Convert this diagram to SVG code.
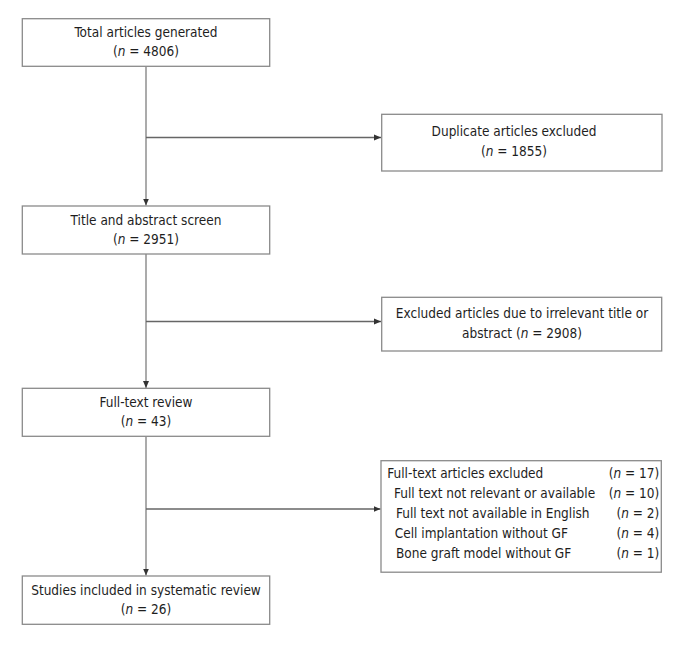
<svg xmlns="http://www.w3.org/2000/svg" width="688" height="646" viewBox="0 0 688 646">
<defs>
<style>
.box{fill:#fff;stroke:#8a8a8a;stroke-width:1.3}
.t{font-family:"DejaVu Sans Condensed","DejaVu Sans",sans-serif;font-size:13.5px;fill:#1e1e1e}
.c{text-anchor:middle}
.r{text-anchor:end}
.i{font-style:italic}
.ln{stroke:#666;stroke-width:1.3;fill:none}
.lv{stroke:#8f8f8f;stroke-width:1.5;fill:none}
</style>
<marker id="ah" markerWidth="8" markerHeight="8" refX="7" refY="4" orient="auto" markerUnits="userSpaceOnUse">
<path d="M0,1 L7,4 L0,7 Z" fill="#333"/>
</marker>
</defs>
<rect width="688" height="646" fill="#fff"/>
<g id="connectors">
<line class="lv" x1="146" y1="66.5" x2="146" y2="205.5" marker-end="url(#ah)"/>
<line class="ln" x1="146" y1="137.5" x2="381" y2="137.5" marker-end="url(#ah)"/>
<line class="lv" x1="146" y1="254" x2="146" y2="388" marker-end="url(#ah)"/>
<line class="ln" x1="146" y1="321.5" x2="381" y2="321.5" marker-end="url(#ah)"/>
<line class="lv" x1="146" y1="436.5" x2="146" y2="575.5" marker-end="url(#ah)"/>
<line class="ln" x1="146" y1="509" x2="380.5" y2="509" marker-end="url(#ah)"/>
</g>
<g id="total">
<rect class="box" x="22.3" y="18.7" width="247.4" height="47.6"/>
<text class="t c" x="146" y="37.3">Total articles generated</text>
<text class="t c" x="146" y="56">(<tspan class="i">n</tspan> = 4806)</text>
</g>
<g id="duplicate">
<rect class="box" x="381.7" y="114.3" width="280.3" height="56.7"/>
<text class="t c" x="514" y="136">Duplicate articles excluded</text>
<text class="t c" x="514" y="156">(<tspan class="i">n</tspan> = 1855)</text>
</g>
<g id="screen">
<rect class="box" x="22.3" y="206" width="247.4" height="48"/>
<text class="t c" x="146" y="224.8">Title and abstract screen</text>
<text class="t c" x="146" y="244">(<tspan class="i">n</tspan> = 2951)</text>
</g>
<g id="irrelevant">
<rect class="box" x="381.7" y="297.3" width="280" height="53.7"/>
<text class="t c" x="522" y="318.3">Excluded articles due to irrelevant title or</text>
<text class="t c" x="522" y="338">abstract (<tspan class="i">n</tspan> = 2908)</text>
</g>
<g id="fulltext">
<rect class="box" x="22.3" y="388.3" width="247.4" height="48"/>
<text class="t c" x="146" y="407">Full-text review</text>
<text class="t c" x="146" y="426.3">(<tspan class="i">n</tspan> = 43)</text>
</g>
<g id="excluded">
<rect class="box" x="381" y="460.7" width="280.3" height="111.5"/>
<text class="t" x="387.3" y="477.7">Full-text articles excluded</text>
<text class="t" x="394" y="498.3">Full text not relevant or available</text>
<text class="t" x="396" y="518.3">Full text not available in English</text>
<text class="t" x="394.7" y="538.3">Cell implantation without GF</text>
<text class="t" x="396" y="558.3">Bone graft model without GF</text>
<text class="t r" x="659.3" y="477.7">(<tspan class="i">n</tspan> = 17)</text>
<text class="t r" x="659.3" y="498.3">(<tspan class="i">n</tspan> = 10)</text>
<text class="t r" x="659.3" y="518.3">(<tspan class="i">n</tspan> = 2)</text>
<text class="t r" x="659.3" y="538.3">(<tspan class="i">n</tspan> = 4)</text>
<text class="t r" x="659.3" y="558.3">(<tspan class="i">n</tspan> = 1)</text>
</g>
<g id="included">
<rect class="box" x="22.3" y="576" width="247.4" height="48.3"/>
<text class="t c" x="146" y="594.8">Studies included in systematic review</text>
<text class="t c" x="146" y="614">(<tspan class="i">n</tspan> = 26)</text>
</g>
</svg>
